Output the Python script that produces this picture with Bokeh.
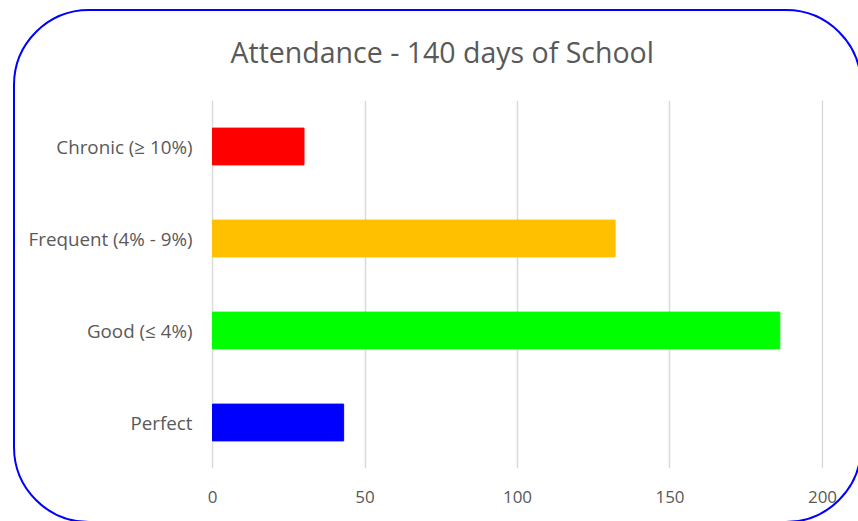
from bokeh.plotting import figure
from bokeh.models import FactorRange, Range1d, FixedTicker, ColumnDataSource, Title
from bokeh.embed import file_html
from bokeh.resources import INLINE

categories = ["Chronic (≥ 10%)", "Frequent (4% - 9%)", "Good (≤ 4%)", "Perfect"]
values = [30, 132, 186, 43]
colors = ["#FF0000", "#FFC000", "#00FF00", "#0000FF"]
x_ticks = [0, 50, 100, 150, 200]
title_text = "Attendance - 140 days of School"

FONT = "Open Sans"
GRAY = "#595959"

src = ColumnDataSource(dict(cat=categories, val=values, color=colors))

# rounded chart-area border drawn as a CSS background behind a transparent canvas
border_svg = ("data:image/svg+xml;utf8,"
              "<svg xmlns='http://www.w3.org/2000/svg' width='858' height='521'>"
              "<rect x='14' y='10' width='847' height='512' rx='75' ry='75' "
              "fill='white' stroke='blue' stroke-width='2'/></svg>")

p = figure(width=858, height=521, output_backend="svg", toolbar_location=None,
           y_range=FactorRange(factors=list(reversed(categories)), range_padding=0),
           x_range=Range1d(-0.33, 200.33),
           min_border_left=211, min_border_right=35, min_border_top=100, min_border_bottom=53,
           title=Title(text=title_text, align="left", offset=19, text_font=FONT,
                       text_font_size="28.5px", text_font_style="normal", text_color=GRAY,
                       standoff=60))
p.outline_line_color = None
p.background_fill_alpha = 0
p.border_fill_alpha = 0
p.styles = {"background-image": f'url("{border_svg}")', "background-repeat": "no-repeat"}

p.hbar(y="cat", right="val", left=0, height=0.4, fill_color="color", line_color="color",
       line_width=1, source=src)

p.xaxis.ticker = FixedTicker(ticks=x_ticks)
p.xaxis.axis_line_color = None
p.xaxis.major_tick_line_color = None
p.xaxis.minor_tick_line_color = None
p.xaxis.major_tick_out = 0
p.xaxis.major_label_standoff = 22
p.xaxis.major_label_text_font = FONT
p.xaxis.major_label_text_font_size = "17px"
p.xaxis.major_label_text_color = GRAY

p.yaxis.axis_line_color = None
p.yaxis.major_tick_line_color = None
p.yaxis.minor_tick_line_color = None
p.yaxis.major_tick_out = 0
p.yaxis.major_label_standoff = 19
p.yaxis.major_label_text_font = FONT
p.yaxis.major_label_text_font_size = "18.8px"
p.yaxis.major_label_text_color = GRAY

p.ygrid.grid_line_color = None
p.xgrid.grid_line_color = "#d9d9d9"
p.xgrid.grid_line_width = 1.5

open("out.html", "w").write(file_html(p, INLINE))
